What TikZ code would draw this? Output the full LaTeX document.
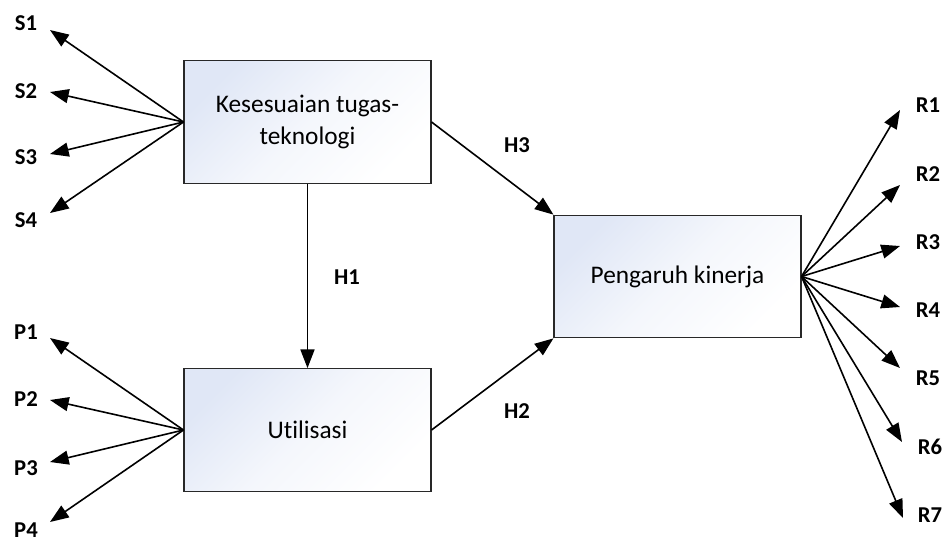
\documentclass[tikz,border=0pt]{standalone}
\usepackage{fontspec}
\setmainfont{Carlito}[Ligatures=NoCommon]
\usetikzlibrary{positioning,arrows.meta}
\definecolor{boxblue}{RGB}{224,231,246}
\definecolor{boxline}{RGB}{40,40,40}
\tikzset{
  konstruk/.style={draw=boxline,line width=0.8pt,minimum width=185.25pt,minimum height=92pt,
    top color=boxblue,bottom color=white,middle color=boxblue!35!white,shading angle=45,align=center,
    font=\fontsize{19}{24}\selectfont},
  indikator/.style={font=\fontsize{17}{20}\selectfont\bfseries},
  panah/.style={-{Triangle[length=14pt,width=10.5pt]},line width=1.2pt}
}
\begin{document}
\begin{tikzpicture}[x=0.75pt,y=-0.75pt]
  \useasboundingbox (0,0) rectangle (950,544);
  \node[konstruk] (kt) at (307.5,122) {Kesesuaian tugas-\\teknologi};
  \node[konstruk] (ut) at (307.5,430) {Utilisasi};
  \node[konstruk] (pk) at (677.5,276.5) {Pengaruh kinerja};

  \draw[panah] (kt.south) -- (ut.north);
  \draw[panah] (kt.east) -- (pk.north west);
  \draw[panah] (ut.east) -- (pk.south west);
  \node[indikator] (h1) at (347,277) {H1};
  \node[indikator] (h2) at (517,411) {H2};
  \node[indikator] (h3) at (517,145) {H3};

  \foreach \i/\ty/\ly in {1/30/23,2/92/91,3/154/157,4/213/220} {
    \coordinate (s\i tip) at (50,\ty);
    \node[indikator] (s\i) at (26,\ly) {S\i};
    \draw[panah] (kt.west) -- (s\i tip);
  }
  \foreach \i/\ty/\ly in {1/338/332,2/400/399,3/462/468,4/522/530} {
    \coordinate (p\i tip) at (50,\ty);
    \node[indikator] (p\i) at (26,\ly) {P\i};
    \draw[panah] (ut.west) -- (p\i tip);
  }
  \foreach \i/\tx/\ty/\lx/\ly in {1/900/110/928/105,2/900/185/928/174,3/900/246/928/242,
      4/900/307/928/310,5/900/368/928/378,6/902/442/930/447,7/903/518/930/515} {
    \coordinate (r\i tip) at (\tx,\ty);
    \node[indikator] (r\i) at (\lx,\ly) {R\i};
    \draw[panah] (pk.east) -- (r\i tip);
  }
\end{tikzpicture}
\end{document}
